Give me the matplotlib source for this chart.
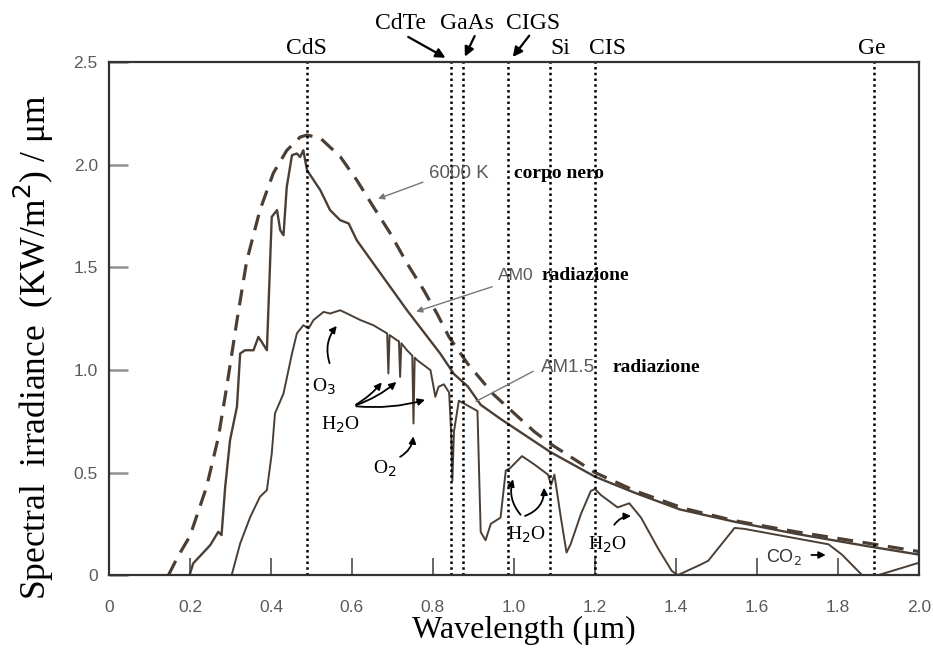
import numpy as np
import matplotlib.pyplot as plt

# spettro di corpo nero a 6000 K (scalato), AM0 e AM1.5
bb_wl = [0.147, 0.17, 0.20, 0.241, 0.270, 0.291, 0.316, 0.340, 0.373, 0.406, 0.439,
         0.472, 0.489, 0.522, 0.571, 0.612, 0.653, 0.695, 0.736, 0.777, 0.810, 0.84,
         0.886, 0.95, 1.0, 1.05, 1.09, 1.2, 1.3, 1.42, 1.545, 1.7, 1.876, 2.0]
bb_irr = [0.0, 0.09, 0.19, 0.43, 0.67, 0.92, 1.24, 1.53, 1.78, 1.96, 2.07,
          2.135, 2.145, 2.13, 2.04, 1.925, 1.795, 1.665, 1.52, 1.39, 1.275, 1.16,
          1.03, 0.88, 0.79, 0.70, 0.64, 0.50, 0.41, 0.325, 0.265, 0.21, 0.155, 0.115]

am0_wl = [0.199, 0.208, 0.25, 0.270, 0.278, 0.287, 0.299, 0.316, 0.324, 0.336, 0.357,
          0.369, 0.377, 0.39, 0.402, 0.415, 0.423, 0.431, 0.439, 0.452, 0.464, 0.472,
          0.480, 0.489, 0.522, 0.546, 0.571, 0.592, 0.612, 0.653, 0.736, 0.818, 0.852,
          0.886, 0.918, 0.968, 1.09, 1.2, 1.3, 1.41, 1.545, 1.7, 1.876, 2.0]
am0_irr = [0.0, 0.057, 0.146, 0.211, 0.195, 0.43, 0.658, 0.82, 1.08, 1.096, 1.096,
           1.161, 1.137, 1.096, 1.746, 1.779, 1.681, 1.657, 1.892, 2.047, 2.055, 2.038,
           2.071, 1.974, 1.876, 1.779, 1.730, 1.714, 1.632, 1.519, 1.291, 1.08, 0.98,
           0.92, 0.83, 0.76, 0.60, 0.48, 0.40, 0.32, 0.26, 0.20, 0.14, 0.10]

am15_wl = [0.303, 0.324, 0.349, 0.373, 0.39, 0.402, 0.410, 0.431, 0.452, 0.464,
           0.480, 0.493, 0.505, 0.530, 0.546, 0.571, 0.588, 0.621, 0.653, 0.687, 0.690,
           0.693, 0.711, 0.716, 0.719, 0.722, 0.736, 0.749, 0.752, 0.755, 0.761, 0.794,
           0.806, 0.814, 0.827, 0.84, 0.845, 0.848, 0.852, 0.864, 0.91, 0.918, 0.93,
           0.943, 0.967, 0.98, 0.99, 1.02, 1.05, 1.084, 1.092, 1.10, 1.116, 1.13, 1.14,
           1.166, 1.19, 1.2, 1.215, 1.256, 1.285, 1.314, 1.356, 1.39, 1.405, 1.46, 1.48,
           1.545, 1.57, 1.777, 1.81, 1.86, 1.90, 2.0]
am15_irr = [0.0, 0.154, 0.284, 0.382, 0.414, 0.593, 0.788, 0.885, 1.08, 1.178,
            1.218, 1.202, 1.243, 1.283, 1.275, 1.291, 1.275, 1.243, 1.218, 1.178, 0.983,
            1.17, 1.145, 1.14, 0.966, 1.13, 1.096, 1.07, 0.739, 1.06, 1.048, 0.999,
            0.869, 0.918, 0.93, 0.89, 0.70, 0.46, 0.70, 0.85, 0.80, 0.21, 0.17,
            0.25, 0.28, 0.51, 0.52, 0.58, 0.54, 0.49, 0.44, 0.49, 0.28, 0.11, 0.15,
            0.30, 0.41, 0.42, 0.39, 0.33, 0.35, 0.28, 0.13, 0.02, 0.0, 0.05, 0.07,
            0.23, 0.225, 0.15, 0.10, 0.0, 0.0, 0.06]

# lunghezze d'onda di gap dei materiali
materials = ['CdS', 'CdTe', 'GaAs', 'CIGS', 'Si', 'CIS', 'Ge']
gap_wl = [0.49, 0.845, 0.875, 0.985, 1.09, 1.20, 1.89]

xticks = [0, 0.2, 0.4, 0.6, 0.8, 1.0, 1.2, 1.4, 1.6, 1.8, 2.0]
xtick_labels = ['0', '0.2', '0.4', '0.6', '0.8', '1.0', '1.2', '1.4', '1.6', '1.8', '2.0']
yticks = [0, 0.5, 1.0, 1.5, 2.0, 2.5]
ytick_labels = ['0', '0.5', '1.0', '1.5', '2.0', '2.5']

curve = '#4b3f35'
grey = '#5a5a5a'
serif = 'Liberation Serif'
sans = 'Liberation Sans'

fig = plt.figure(figsize=(9.33, 6.55), dpi=100)
ax = fig.add_axes([0.1168, 0.122, 0.868, 0.783])

ax.plot(bb_wl, bb_irr, color=curve, lw=2.3, dashes=(5, 3))
ax.plot(am0_wl, am0_irr, color=curve, lw=1.7)
ax.plot(am15_wl, am15_irr, color=curve, lw=1.4)

for wl in gap_wl:
    ax.plot([wl, wl], [0, 2.5], color='black', lw=1.8, ls=(0, (1, 1.3)))

ax.set_xlim(0, 2.0)
ax.set_ylim(0, 2.5)
ax.set_xticks(xticks)
ax.set_xticklabels(xtick_labels, fontfamily=sans, fontsize=12.5, color=grey)
ax.set_yticks(yticks)
ax.set_yticklabels(ytick_labels, fontfamily=sans, fontsize=12.5, color=grey)
ax.tick_params(axis='x', direction='in', length=12, width=1.3, color=grey, pad=18)
ax.tick_params(axis='y', direction='in', length=14, width=1.8, color='#909090', pad=8)
for s in ax.spines.values():
    s.set_color('#333333')
    s.set_linewidth(1.6)

# etichette dei materiali sopra il grafico
top_y = {'CdS': 2.565, 'Si': 2.565, 'CIS': 2.565, 'Ge': 2.565}
label_x = {'CdS': 0.488, 'Si': 1.114, 'CIS': 1.232, 'Ge': 1.884,
           'CdTe': 0.72, 'GaAs': 0.884, 'CIGS': 1.047}
for name in materials:
    y = top_y.get(name, 2.69)
    ax.text(label_x[name], y, name, ha='center', va='center', fontsize=17,
            fontfamily=serif, clip_on=False)

arr = dict(arrowstyle='-|>', color='black', lw=1.6, mutation_scale=14)
ax.annotate('', xy=(0.837, 2.515), xytext=(0.733, 2.63), arrowprops=arr, annotation_clip=False)
ax.annotate('', xy=(0.876, 2.515), xytext=(0.906, 2.64), arrowprops=arr, annotation_clip=False)
ax.annotate('', xy=(0.993, 2.515), xytext=(1.042, 2.64), arrowprops=arr, annotation_clip=False)

# etichette delle curve
thin = dict(arrowstyle='-|>', color='#777777', lw=1.0, mutation_scale=9)
ax.text(0.79, 1.96, '6000 K', fontfamily=sans, fontsize=13.5, color=grey, va='center')
ax.text(1.0, 1.96, 'corpo nero', fontfamily=serif, fontsize=14, va='center', weight='bold')
ax.annotate('', xy=(0.658, 1.83), xytext=(0.782, 1.92), arrowprops=thin)

ax.text(0.96, 1.46, 'AM0', fontfamily=sans, fontsize=12.5, color=grey, va='center')
ax.text(1.068, 1.46, 'radiazione', fontfamily=serif, fontsize=14, va='center', weight='bold')
ax.annotate('', xy=(0.752, 1.28), xytext=(0.953, 1.41), arrowprops=thin)

ax.text(1.067, 1.01, 'AM1.5', fontfamily=sans, fontsize=13.5, color=grey, va='center')
ax.text(1.243, 1.01, 'radiazione', fontfamily=serif, fontsize=14, va='center', weight='bold')
ax.annotate('', xy=(0.90, 0.84), xytext=(1.054, 1.0),
            arrowprops=dict(arrowstyle='-', color='#777777', lw=1.0))

# bande di assorbimento
small = dict(arrowstyle='-|>', color='black', lw=1.3, mutation_scale=10)
ax.text(0.53, 0.918, 'O$_3$', fontfamily=serif, fontsize=14, ha='center', va='center')
ax.annotate('', xy=(0.567, 1.225), xytext=(0.547, 1.02), arrowprops=dict(small, connectionstyle='arc3,rad=-0.3'))

ax.text(0.571, 0.731, 'H$_2$O', fontfamily=serif, fontsize=14, ha='center', va='center')
for tip in [(0.678, 0.95), (0.715, 0.95), (0.787, 0.858)]:
    ax.annotate('', xy=tip, xytext=(0.604, 0.824), arrowprops=dict(small, connectionstyle='arc3,rad=0.1'))

ax.text(0.682, 0.52, 'O$_2$', fontfamily=serif, fontsize=14, ha='center', va='center')
ax.annotate('', xy=(0.752, 0.69), xytext=(0.713, 0.57), arrowprops=dict(small, connectionstyle='arc3,rad=0.3'))

ax.text(1.03, 0.195, 'H$_2$O', fontfamily=serif, fontsize=14, ha='center', va='center')
ax.annotate('', xy=(1.0, 0.48), xytext=(1.021, 0.284), arrowprops=dict(small, connectionstyle='arc3,rad=-0.3'))
ax.annotate('', xy=(1.074, 0.44), xytext=(1.021, 0.284), arrowprops=dict(small, connectionstyle='arc3,rad=0.4'))

ax.text(1.232, 0.146, 'H$_2$O', fontfamily=serif, fontsize=14, ha='center', va='center')
ax.annotate('', xy=(1.296, 0.288), xytext=(1.244, 0.234), arrowprops=dict(small, connectionstyle='arc3,rad=-0.3'))

ax.text(1.668, 0.088, 'CO$_2$', fontfamily=sans, fontsize=13, ha='center', va='center', color='#333333')
ax.annotate('', xy=(1.777, 0.098), xytext=(1.728, 0.098), arrowprops=small)

fig.text(34 / 933, 1 - 347 / 655, 'Spectral  irradiance  (KW/m$^2$) / \u03bcm', rotation=90,
         ha='center', va='center', fontfamily=serif, fontsize=25.5)
fig.text(524 / 933, 1 - 630 / 655, 'Wavelength (\u03bcm)', ha='center', va='center',
         fontfamily=serif, fontsize=23)

fig.savefig('out.png', dpi=100)
